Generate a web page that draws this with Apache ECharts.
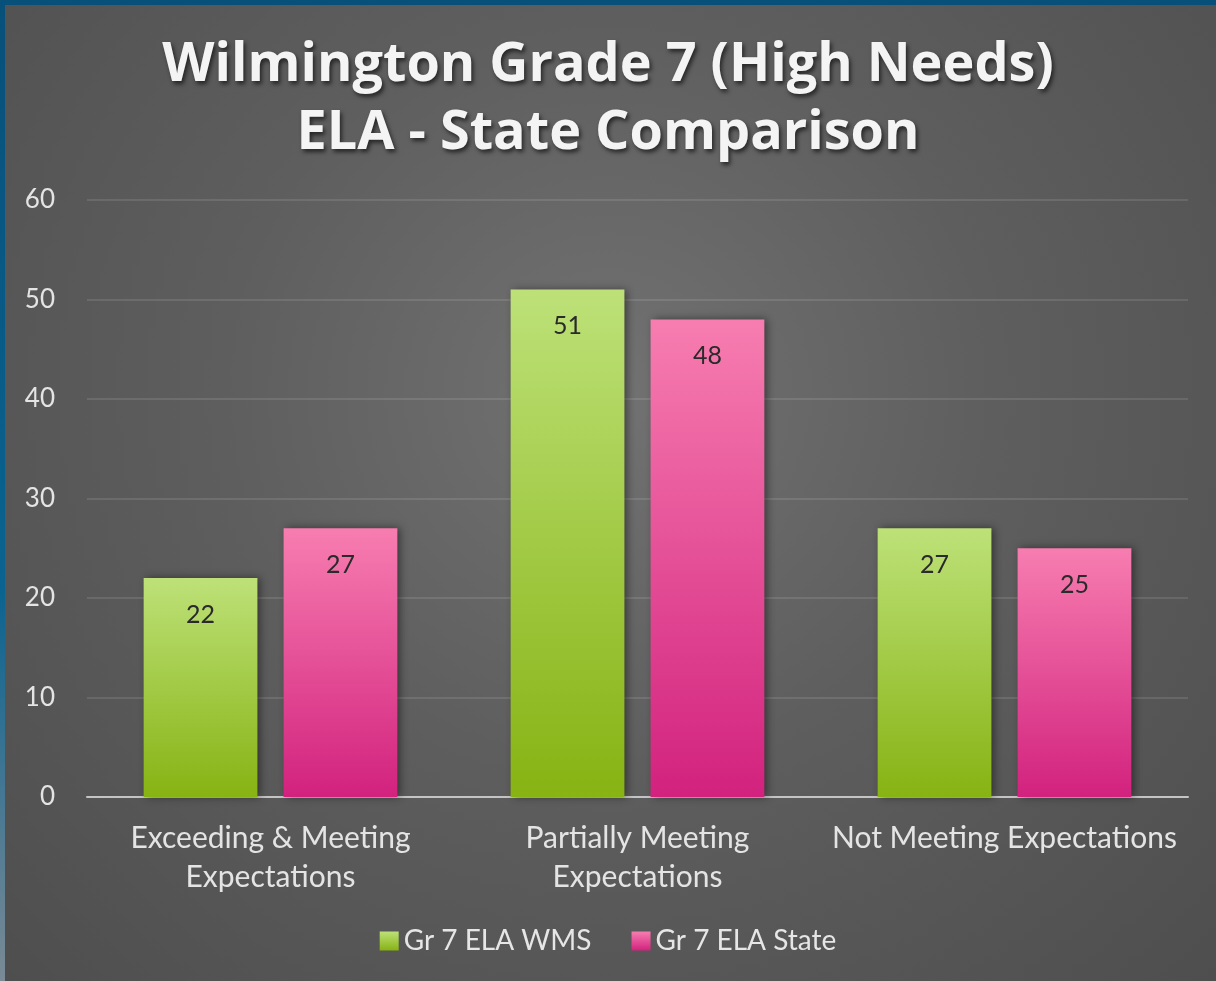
<!DOCTYPE html>
<html>
<head>
<meta charset="utf-8">
<script src="https://cdn.jsdelivr.net/npm/echarts@6/dist/echarts.min.js"></script>
<style>
  html, body { margin: 0; padding: 0; }
  #frame {
    position: relative;
    width: 1216px;
    height: 981px;
    background: radial-gradient(ellipse at 50% 40%, #727272 0%, #5e5e5e 45%, #4e4e4e 100%);
    overflow: hidden;
  }
  .edgeTop {
    position: absolute; left: 0; top: 0; width: 100%; height: 5px;
    background: #07507a;
  }
  .edgeLeft {
    position: absolute; left: 0; top: 0; width: 5px; height: 100%;
    background: linear-gradient(to bottom, #07507a, #0a6390 60%, #7a8a96);
  }
  #chart { position: absolute; left: 0; top: 0; width: 1216px; height: 981px; }
</style>
</head>
<body>
<div id="frame">
  <div id="chart"></div>
  <div class="edgeTop"></div>
  <div class="edgeLeft"></div>
</div>
<script>
// 数据
var categories = ["Exceeding & Meeting\nExpectations", "Partially Meeting\nExpectations", "Not Meeting Expectations"];
var wmsValues = [22, 51, 27];
var stateValues = [27, 48, 25];
var seriesNames = ["Gr 7 ELA WMS", "Gr 7 ELA State"];

var FONT = "Lato, 'Open Sans', sans-serif";

var myChart = echarts.init(document.getElementById("chart"));

function barColor(top, bottom) {
  return new echarts.graphic.LinearGradient(0, 0, 0, 1, [
    { offset: 0, color: top },
    { offset: 1, color: bottom },
  ]);
}

var options = {
  backgroundColor: "transparent",
  title: {
    text: "Wilmington Grade 7 (High Needs)\nELA - State Comparison",
    left: "center",
    top: 27,
    textStyle: {
      color: "#f4f4f4",
      fontFamily: "'Open Sans', Lato, sans-serif",
      fontWeight: "bold",
      fontSize: 54,
      lineHeight: 68,
      textShadowColor: "rgba(0,0,0,0.6)",
      textShadowBlur: 4,
      textShadowOffsetX: 2,
      textShadowOffsetY: 3,
    },
  },
  legend: {
    bottom: 21,
    left: "center",
    itemWidth: 19,
    itemHeight: 19,
    itemGap: 40,
    icon: "rect",
    textStyle: { color: "#e6e6e6", fontFamily: FONT, fontSize: 28 },
    data: seriesNames,
  },
  // 图表区域
  grid: {
    top: 200,
    left: 87,
    right: 28,
    bottom: 184,
    containLabel: false,
  },
  xAxis: {
    type: "category",
    data: categories,
    axisTick: { show: false },
    axisLine: { lineStyle: { color: "#c4c4c4", width: 2 } },
    axisLabel: {
      color: "#e4e4e4",
      fontFamily: FONT,
      fontSize: 30,
      lineHeight: 39,
      margin: 22,
      interval: 0,
    },
  },
  yAxis: {
    type: "value",
    min: 0,
    max: 60,
    interval: 10,
    axisLine: { show: false },
    axisTick: { show: false },
    axisLabel: {
      color: "#e4e4e4",
      fontFamily: FONT,
      fontSize: 26,
      margin: 32,
    },
    splitLine: { lineStyle: { color: "rgba(255,255,255,0.14)", width: 1.5 } },
  },
  series: [
    {
      name: seriesNames[0],
      type: "bar",
      data: wmsValues,
      barWidth: "31%",
      barGap: "23%",
      itemStyle: {
        color: barColor("#bde178", "#87b313"),
        shadowColor: "rgba(0,0,0,0.45)",
        shadowBlur: 8,
        shadowOffsetX: 3,
        shadowOffsetY: 0,
      },
      label: {
        show: true,
        position: "insideTop",
        distance: 24,
        color: "#2a2a2a",
        fontFamily: FONT,
        fontSize: 25,
      },
    },
    {
      name: seriesNames[1],
      type: "bar",
      data: stateValues,
      barWidth: "31%",
      itemStyle: {
        color: barColor("#f77db0", "#d2227e"),
        shadowColor: "rgba(0,0,0,0.45)",
        shadowBlur: 8,
        shadowOffsetX: 3,
        shadowOffsetY: 0,
      },
      label: {
        show: true,
        position: "insideTop",
        distance: 24,
        color: "#2a2a2a",
        fontFamily: FONT,
        fontSize: 25,
      },
    },
  ],
};
myChart.setOption(options);
</script>
</body>
</html>
